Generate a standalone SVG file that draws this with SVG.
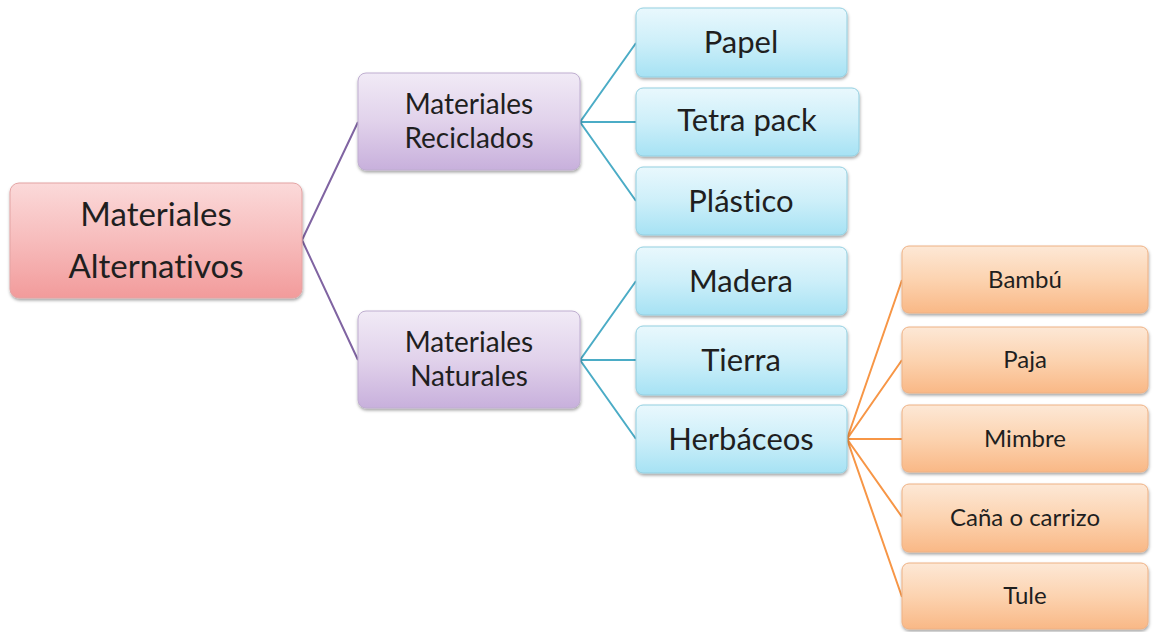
<svg xmlns="http://www.w3.org/2000/svg" width="1154" height="632" viewBox="0 0 1154 632">
<defs>
<linearGradient id="gRed" x1="0" y1="0" x2="0" y2="1"><stop offset="0" stop-color="#fbd9d9"/><stop offset="0.5" stop-color="#f7bcbc"/><stop offset="1" stop-color="#f29b9b"/></linearGradient>
<linearGradient id="gPur" x1="0" y1="0" x2="0" y2="1"><stop offset="0" stop-color="#f1eaf6"/><stop offset="0.5" stop-color="#e1d2eb"/><stop offset="1" stop-color="#c8b0dc"/></linearGradient>
<linearGradient id="gBlu" x1="0" y1="0" x2="0" y2="1"><stop offset="0" stop-color="#e9f8fd"/><stop offset="0.5" stop-color="#cdeff9"/><stop offset="1" stop-color="#a6e2f4"/></linearGradient>
<linearGradient id="gOra" x1="0" y1="0" x2="0" y2="1"><stop offset="0" stop-color="#fde8d6"/><stop offset="0.5" stop-color="#fcd3b0"/><stop offset="1" stop-color="#f9b886"/></linearGradient>
<filter id="sh" x="-10%" y="-10%" width="120%" height="130%"><feDropShadow dx="0.5" dy="2" stdDeviation="1.5" flood-color="#000" flood-opacity="0.35"/></filter>
</defs>
<style>
.box{filter:url(#sh);stroke-width:1}
.red{fill:url(#gRed);stroke:#e3a3a3}
.pur{fill:url(#gPur);stroke:#bfaed0}
.blu{fill:url(#gBlu);stroke:#93cfe0}
.ora{fill:url(#gOra);stroke:#eeb184}
text{font-family:Lato,"Open Sans","Liberation Sans",sans-serif;fill:#1f1f1f;text-anchor:middle;font-variant-ligatures:none}
.t1{font-size:33px}
.t2{font-size:28px}
.t3{font-size:31px}
.t4{font-size:24px}
.cp{stroke:#8064a2;stroke-width:2;fill:none}
.cb{stroke:#4bacc6;stroke-width:2;fill:none}
.co{stroke:#f79646;stroke-width:2;fill:none}
</style>
<rect width="1154" height="632" fill="#ffffff"/>
<g id="connectors">
<path class="cp" d="M302 240 L358 122 M302 240 L358 360"/>
<path class="cb" d="M580 122 L636 43 M580 122 L636 122 M580 122 L636 201"/>
<path class="cb" d="M580 360 L636 281 M580 360 L636 360 M580 360 L636 439"/>
<path class="co" d="M847 439 L902 280 M847 439 L902 360 M847 439 L902 439 M847 439 L902 517 M847 439 L902 597"/>
</g>
<g id="root"><rect class="box red" x="10" y="183" width="292" height="115" rx="9"/><text class="t1" x="156" y="226">Materiales</text><text class="t1" x="156" y="278">Alternativos</text></g>
<g id="reciclados"><rect class="box pur" x="358" y="73" width="222" height="97" rx="8"/><text class="t2" x="469" y="114">Materiales</text><text class="t2" x="469" y="148">Reciclados</text></g>
<g id="naturales"><rect class="box pur" x="358" y="311" width="222" height="97" rx="8"/><text class="t2" x="469" y="352">Materiales</text><text class="t2" x="469" y="386">Naturales</text></g>
<g id="papel"><rect class="box blu" x="636" y="8" width="211" height="69" rx="7"/><text class="t3" x="741" y="53">Papel</text></g>
<g id="tetra"><rect class="box blu" x="636" y="88" width="223" height="68" rx="7"/><text class="t3" x="747" y="131">Tetra pack</text></g>
<g id="plastico"><rect class="box blu" x="636" y="167" width="211" height="68" rx="7"/><text class="t3" x="741" y="212">Plástico</text></g>
<g id="madera"><rect class="box blu" x="636" y="247" width="211" height="68" rx="7"/><text class="t3" x="741" y="292">Madera</text></g>
<g id="tierra"><rect class="box blu" x="636" y="326" width="211" height="69" rx="7"/><text class="t3" x="741" y="371">Tierra</text></g>
<g id="herbaceos"><rect class="box blu" x="636" y="405" width="211" height="68" rx="7"/><text class="t3" x="741" y="450">Herbáceos</text></g>
<g id="bambu"><rect class="box ora" x="902" y="246" width="246" height="67" rx="7"/><text class="t4" x="1025" y="288">Bambú</text></g>
<g id="paja"><rect class="box ora" x="902" y="327" width="246" height="66" rx="7"/><text class="t4" x="1025" y="368">Paja</text></g>
<g id="mimbre"><rect class="box ora" x="902" y="405" width="246" height="67" rx="7"/><text class="t4" x="1025" y="447">Mimbre</text></g>
<g id="cana"><rect class="box ora" x="902" y="484" width="246" height="68" rx="7"/><text class="t4" x="1025" y="526">Caña o carrizo</text></g>
<g id="tule"><rect class="box ora" x="902" y="563" width="246" height="66" rx="7"/><text class="t4" x="1025" y="604">Tule</text></g>
</svg>
